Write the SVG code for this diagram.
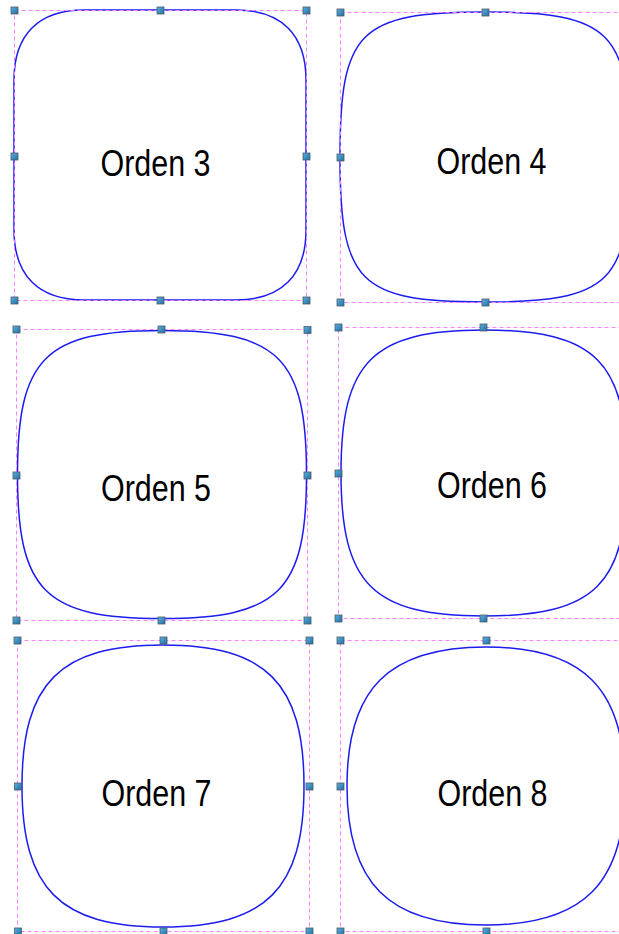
<svg xmlns="http://www.w3.org/2000/svg" xmlns:xlink="http://www.w3.org/1999/xlink" width="619" height="934" viewBox="0 0 619 934">
<style>
.bb{fill:none;stroke:#ff80ff;stroke-width:1;stroke-dasharray:4,3}
.sh{fill:#fff;stroke:#1c1cf0;stroke-width:1.5}
.lb{font-family:"Liberation Sans Narrow","Liberation Sans",Arial,sans-serif;font-size:36px;fill:#000;text-anchor:middle}
</style>
<defs>
<linearGradient id="hg" x1="0" y1="0" x2="1" y2="1"><stop offset="0" stop-color="#5fb0e0"/><stop offset="1" stop-color="#1d6fa3"/></linearGradient>
<rect id="h" x="-3.5" y="-3.5" width="7" height="7" fill="url(#hg)" stroke="#4d5b66" stroke-width="0.8"/>
</defs>
<rect width="619" height="934" fill="#fff"/>
<g id="n3">
<path class="sh" d="M14,80 C14,34.5 38.5,10 84,10 L236,10 C281.5,10 306,34.5 306,80 L306,230 C306,275.5 281.5,300 236,300 L84,300 C38.5,300 14,275.5 14,230 Z"/>
<rect class="bb" x="14.5" y="10.5" width="292" height="290"/>
<text class="lb" x="155.5" y="176" textLength="110" lengthAdjust="spacingAndGlyphs">Orden 3</text>
<use xlink:href="#h" x="14.5" y="10.5"/><use xlink:href="#h" x="160.5" y="10.5"/><use xlink:href="#h" x="306.5" y="10.5"/>
<use xlink:href="#h" x="14.5" y="156.5"/><use xlink:href="#h" x="306.5" y="156.5"/>
<use xlink:href="#h" x="14.5" y="300.5"/><use xlink:href="#h" x="160.5" y="300.5"/><use xlink:href="#h" x="306.5" y="300.5"/>
</g>
<g id="n4">
<path class="sh" d="M340,157 C340,30.85 358.85,12 485,12 C611.15,12 630,30.85 630,157 C630,283.15 611.15,302 485,302 C358.85,302 340,283.15 340,157 Z"/>
<rect class="bb" x="340.5" y="12.5" width="300" height="290"/>
<text class="lb" x="491.5" y="174" textLength="110" lengthAdjust="spacingAndGlyphs">Orden 4</text>
<use xlink:href="#h" x="340.5" y="12.5"/><use xlink:href="#h" x="485.5" y="12.5"/>
<use xlink:href="#h" x="340.5" y="157.5"/>
<use xlink:href="#h" x="340.5" y="302.5"/><use xlink:href="#h" x="485.5" y="302.5"/>
</g>
<g id="n5">
<path class="sh" d="M17.5,474.5 C17.5,357.86 44.95,330.5 162,330.5 C279.05,330.5 306.5,357.86 306.5,474.5 C306.5,591.14 279.05,618.5 162,618.5 C44.95,618.5 17.5,591.14 17.5,474.5 Z"/>
<rect class="bb" x="16.5" y="329.5" width="291" height="291"/>
<text class="lb" x="156" y="501" textLength="110" lengthAdjust="spacingAndGlyphs">Orden 5</text>
<use xlink:href="#h" x="16.5" y="329.5"/><use xlink:href="#h" x="161.5" y="329.5"/><use xlink:href="#h" x="307.5" y="330"/>
<use xlink:href="#h" x="16.5" y="475.5"/><use xlink:href="#h" x="307.5" y="475.5"/>
<use xlink:href="#h" x="16.5" y="620.5"/><use xlink:href="#h" x="161.5" y="620.5"/><use xlink:href="#h" x="307.5" y="620.5"/>
</g>
<g id="n6">
<path class="sh" d="M341,473 C341,361.46 372.46,330 484,330 C595.54,330 627,361.46 627,473 C627,584.54 595.54,616 484,616 C372.46,616 341,584.54 341,473 Z"/>
<rect class="bb" x="338.5" y="327.5" width="300" height="291"/>
<text class="lb" x="492" y="498" textLength="110" lengthAdjust="spacingAndGlyphs">Orden 6</text>
<use xlink:href="#h" x="338.5" y="327.5"/><use xlink:href="#h" x="483.5" y="327.5"/>
<use xlink:href="#h" x="338.5" y="473.5"/>
<use xlink:href="#h" x="338.5" y="618.5"/><use xlink:href="#h" x="483.5" y="618.5"/>
</g>
<g id="n7">
<path class="sh" d="M22,786 C22,683.07 60.07,645 163,645 C265.93,645 304,683.07 304,786 C304,888.93 265.93,927 163,927 C60.07,927 22,888.93 22,786 Z"/>
<rect class="bb" x="17.5" y="640.5" width="292" height="291"/>
<text class="lb" x="156.5" y="806" textLength="110" lengthAdjust="spacingAndGlyphs">Orden 7</text>
<use xlink:href="#h" x="17.5" y="640.5"/><use xlink:href="#h" x="163.5" y="640.5"/><use xlink:href="#h" x="309.5" y="640.5"/>
<use xlink:href="#h" x="18" y="786.5"/><use xlink:href="#h" x="309.5" y="786.5"/>
<use xlink:href="#h" x="18" y="931.5"/><use xlink:href="#h" x="163.5" y="931.5"/><use xlink:href="#h" x="309.5" y="931.5"/>
</g>
<g id="n8">
<path class="sh" d="M347,786 C347,688.7 388.7,647 486,647 C583.3,647 625,688.7 625,786 C625,883.3 583.3,925 486,925 C388.7,925 347,883.3 347,786 Z"/>
<rect class="bb" x="340.5" y="640.5" width="300" height="291"/>
<text class="lb" x="492.5" y="806" textLength="110" lengthAdjust="spacingAndGlyphs">Orden 8</text>
<use xlink:href="#h" x="340.5" y="640.5"/><use xlink:href="#h" x="486.5" y="640.5"/>
<use xlink:href="#h" x="340.5" y="786.5"/>
<use xlink:href="#h" x="340.5" y="931.5"/><use xlink:href="#h" x="486.5" y="931.5"/>
</g>
<g id="connectors"/>
</svg>
